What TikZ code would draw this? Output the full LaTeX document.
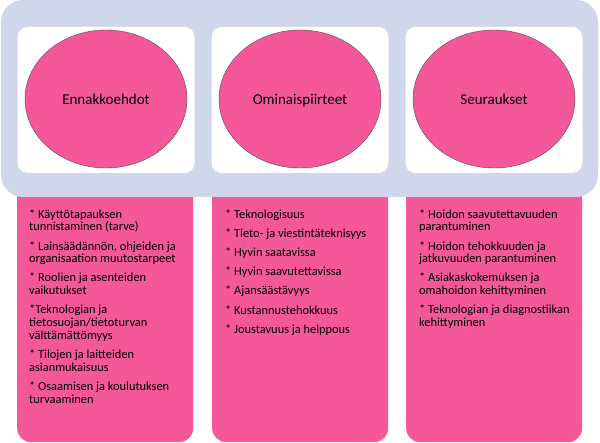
\documentclass[tikz,border=0pt]{standalone}
\usepackage{fontspec}
\setmainfont{Carlito}
\usetikzlibrary{positioning, shapes.geometric}

\definecolor{pinkfill}{RGB}{244,88,154}
\definecolor{lavender}{RGB}{209,215,234}

\newcommand{\firstline}{\rule{0pt}{10pt}}
\setlength{\lineskiplimit}{-20pt}

\begin{document}
\begin{tikzpicture}[
    x=1pt, y=-1pt,
    frame/.style={fill=lavender, rounded corners=22pt},
    panel/.style={fill=white, rounded corners=10pt, inner sep=0pt,
        minimum width=177pt, minimum height=146pt},
    bubble/.style={ellipse, draw=gray!60!black, line width=0.4pt, fill=pinkfill,
        inner sep=0pt, minimum width=162pt, minimum height=138pt,
        text height=12pt, text depth=0pt, font=\fontsize{15}{18}\selectfont},
    listbox/.style={fill=pinkfill, rounded corners=14pt, inner sep=0pt,
        anchor=north west, minimum width=176pt, minimum height=262pt},
    items/.style={align=left, inner sep=0pt,
        font=\fontsize{12.4}{12.7}\selectfont},
]
    \useasboundingbox (0,0) rectangle (600,443);

    % pink lists, their tops hidden under the frame
    \node[listbox] (EHbox) at (17,180)  {};
    \node[listbox] (OPbox) at (212,180) {};
    \node[listbox] (SEbox) at (406,180) {};

    \fill[frame] (1,0) rectangle (598,197);

    \node[panel] (EHpanel) at (106,100) {};
    \node[panel] (OPpanel) at (300,100) {};
    \node[panel] (SEpanel) at (494,100) {};

    \node[bubble] (EH) at ([yshift=1pt]EHpanel) {Ennakkoehdot};
    \node[bubble] (OP) at ([yshift=1pt]OPpanel) {Ominaispiirteet};
    \node[bubble] (SE) at ([yshift=1pt]SEpanel) {Seuraukset};

    \node[items, below right=28pt and 12pt of EHbox.north west] (EHlist) {%
        \firstline* Käyttötapauksen\\tunnistaminen (tarve)\\[6.5pt]
        * Lainsäädännön, ohjeiden ja\\organisaation muutostarpeet\\[6.5pt]
        * Roolien ja asenteiden\\vaikutukset\\[6.5pt]
        *Teknologian ja\\tietosuojan/tietoturvan\\välttämättömyys\\[6.5pt]
        * Tilojen ja laitteiden\\asianmukaisuus\\[6.5pt]
        * Osaamisen ja koulutuksen\\turvaaminen};
    \node[items, below right=28pt and 13pt of OPbox.north west] (OPlist) {%
        \firstline* Teknologisuus\\[6.5pt]
        * Tieto- ja viestintäteknisyys\\[6.5pt]
        * Hyvin saatavissa\\[6.5pt]
        * Hyvin saavutettavissa\\[6.5pt]
        * Ajansäästävyys\\[6.5pt]
        * Kustannustehokkuus\\[6.5pt]
        * Joustavuus ja helppous};
    \node[items, below right=28pt and 13pt of SEbox.north west] (SElist) {%
        \firstline* Hoidon saavutettavuuden\\parantuminen\\[6.5pt]
        * Hoidon tehokkuuden ja\\jatkuvuuden parantuminen\\[6.5pt]
        * Asiakaskokemuksen ja\\omahoidon kehittyminen\\[6.5pt]
        * Teknologian ja diagnostiikan\\kehittyminen};
\end{tikzpicture}
\end{document}
